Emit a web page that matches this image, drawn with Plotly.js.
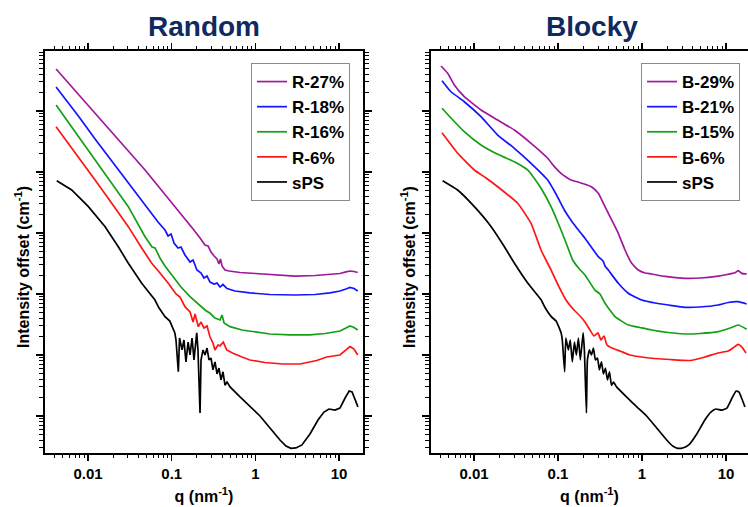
<!DOCTYPE html>
<html>
<head>
<meta charset="utf-8">
<script src="https://cdn.plot.ly/plotly-3.0.1.min.js"></script>
<style>html,body{margin:0;padding:0;background:#fff;}#chart{width:748px;height:507px;}</style>
</head>
<body>
<div id="chart"></div>
<script>
// ---- Data (q in nm^-1, intensity offset in arbitrary cm^-1 units) ----
const sPS_q = [0.00423,0.00638,0.0101,0.0160,0.0230,0.0303,0.0438,0.0631,0.07,0.0831,0.095,0.109,0.1125,0.120,0.124,0.1328,0.140,0.148,0.157,0.1655,0.175,0.1846,0.199,0.206,0.218,0.224,0.2366,0.250,0.264,0.279,0.295,0.311,0.329,0.348,0.367,0.388,0.410,0.433,0.458,0.498,0.655,0.862,1.135,1.494,1.967,2.32,2.66,3.05,3.60,4.49,5.60,6.60,7.57,8.93,10.25,11.8,13.2,14.3,15.5,16.8];
const sPS_I = [7200,5070,2700,1270,596,319,150,79.7,60,42.5,36,23,17.6,5.3,19,12.1,17.6,7.7,16.3,10,19,8.3,23,12.1,1.12,8.3,12.1,10,13,8.3,8.9,5.7,7.7,4.9,6.1,3.9,5.3,3.2,3.6,3.0,2.05,1.42,1.0,0.636,0.404,0.322,0.295,0.299,0.335,0.507,0.86,1.16,1.30,1.25,1.35,1.97,2.57,2.47,1.90,1.41];

const R6_q = [0.00415,0.00766,0.01213,0.01919,0.0303,0.0430,0.0577,0.0724,0.0910,0.1125,0.1256,0.144,0.1655,0.180,0.190,0.208,0.224,0.243,0.264,0.287,0.311,0.329,0.357,0.378,0.413,0.454,0.540,0.692,0.861,1.30,2.14,3.41,5.40,7.11,10.25,12.1,13.5,15.1,16.7];
const R6_I = [5.53e4,1.78e4,7390,3070,1270,589,319,221,150,100,89.3,61.9,50.7,34.7,47,29.1,34.7,27.7,29.9,19.7,15.7,12.1,14.6,14.1,16.3,12.1,10.7,9.27,8.28,7.54,7.12,7.12,8.13,9.27,10.0,12.1,13.7,12.5,10.0];

const R16_q = [0.00415,0.00766,0.01213,0.01919,0.0303,0.0480,0.0582,0.0632,0.0724,0.0831,0.1037,0.129,0.1655,0.195,0.218,0.250,0.287,0.329,0.378,0.399,0.422,0.498,0.692,1.0,1.49,2.59,4.49,6.79,10.25,12.1,13.5,15.1,16.7];
const R16_I = [1.25e5,3.79e4,1.57e4,6530,2700,869,589,568,389,288,190,130,90.3,73.9,66,54.7,48.3,40.4,37.5,45.3,33.5,29.1,25.7,23.8,22.1,21.3,21.3,22.5,24.7,27.7,29.9,28.2,25.7];

const R18_q = [0.00415,0.00766,0.01213,0.01919,0.0303,0.0480,0.0686,0.0831,0.0904,0.0982,0.1065,0.1189,0.129,0.144,0.1655,0.180,0.200,0.224,0.243,0.264,0.287,0.321,0.348,0.378,0.410,0.458,0.571,0.861,1.49,2.97,5.15,7.79,10.25,12.1,13.5,15.1,16.7];
const R18_I = [2.47e5,8.28e4,3.47e4,1.51e4,6600,2880,1510,1120,893,964,686,568,589,436,335,361,247,221,183,197,157,146,151,130,143,123,112,104,98.1,96.3,98.1,104,112,121,128,123,112];

const R27_q = [0.00415,0.00766,0.01213,0.01919,0.0303,0.0480,0.0724,0.1009,0.140,0.180,0.218,0.250,0.272,0.295,0.321,0.348,0.367,0.383,0.399,0.433,0.484,0.655,1.0,1.71,2.97,5.15,7.79,10.25,12.1,13.5,15.1,16.7];
const R27_I = [4.88e5,1.90e5,9.27e4,4.58e4,2.21e4,1.08e4,5470,3100,1760,1160,828,635,612,488,420,375,310,375,288,247,238,225,217,205,197,201,209,217,230,238,234,225];

const B6_q = [0.00416,0.00640,0.01008,0.0139,0.01914,0.0331,0.0478,0.0628,0.0804,0.1,0.1245,0.155,0.183,0.2095,0.2404,0.2685,0.299,0.325,0.353,0.383,0.440,0.547,0.719,1.086,2.15,3.73,5.62,8.03,10.6,12.1,13.9,15.5,17.3];
const B6_I = [4.41e4,2.03e4,1.08e4,7980,5740,3070,1440,526,267,141,79.7,54.7,43.6,34.7,25.7,20.5,23.0,17.6,20.5,14.6,13.0,11.6,10.0,9.10,8.44,8.13,9.27,10.8,11.6,13.0,14.9,13.5,10.8];

const B15_q = [0.00416,0.00532,0.00766,0.01211,0.01914,0.02404,0.0302,0.03626,0.0435,0.0518,0.0628,0.0826,0.1086,0.1262,0.1496,0.1754,0.2095,0.275,0.316,0.363,0.478,0.687,0.946,1.30,2.04,3.25,4.90,8.09,11.2,14.0,17.6];
const B15_I = [1.11e5,7.68e4,4.58e4,2.77e4,1.95e4,1.70e4,1.47e4,1.28e4,1.08e4,7980,5410,2700,1120,661,361,267,205,116,100,70.4,42.5,31.0,28.2,25.7,23.4,22.1,22.5,24.1,27.7,31.0,26.4];

const B21_q = [0.00416,0.00532,0.00766,0.01211,0.01914,0.0302,0.0478,0.0754,0.0946,0.1189,0.149,0.188,0.2095,0.302,0.344,0.363,0.397,0.522,0.687,0.827,0.991,1.43,2.06,3.25,4.90,8.09,10.6,14.0,17.6];
const B21_I = [3.14e5,2.07e5,1.42e5,8.07e4,4.04e4,2.45e4,1.39e4,7390,4360,2380,1490,989,819,409,347,288,247,150,103,89.3,79.7,71.2,66,60.5,61.2,66,72.6,74.8,68.5];

const B29_q = [0.00405,0.00486,0.00583,0.00766,0.01211,0.01914,0.0302,0.0478,0.0754,0.0895,0.1086,0.1245,0.143,0.173,0.2056,0.252,0.302,0.363,0.436,0.522,0.628,0.754,0.903,1.086,1.30,1.88,3.25,4.90,8.09,10.3,12.8,14.0,15.4,17.6];
const B29_I = [5.47e5,4.15e5,2.67e5,1.72e5,1.04e5,7.12e4,4.88e4,2.95e4,1.68e4,1.25e4,9520,8280,7390,6860,6360,5680,4480,2700,1630,989,526,319,247,221,213,194,181,183,197,209,223,241,218,213];

const xTickVals = [0.01, 0.1, 1, 10];
const xTickText = ['0.01', '0.1', '1', '10'];
const yTickVals = [1, 10, 100, 1000, 1e4, 1e5, 1e6];
const leftNames = ['R-27%', 'R-18%', 'R-16%', 'R-6%', 'sPS'];
const rightNames = ['B-29%', 'B-21%', 'B-15%', 'B-6%', 'sPS'];
const colors = ['#a0189c', '#1414ff', '#14a014', '#ff1414', '#000000'];

// minor tick positions (axis decoration only)
const minorX = [], minorY = [];
for (let d = -3; d <= 1; d++) for (let k = 2; k <= 9; k++) minorX.push(k * Math.pow(10, d));
for (let d = -1; d <= 5; d++) for (let k = 2; k <= 9; k++) minorY.push(k * Math.pow(10, d));

const leftData = [[R27_q, R27_I], [R18_q, R18_I], [R16_q, R16_I], [R6_q, R6_I], [sPS_q, sPS_I]];
const rightData = [[B29_q, B29_I], [B21_q, B21_I], [B15_q, B15_I], [B6_q, B6_I], [sPS_q, sPS_I]];

const traces = [];
leftData.forEach((d, i) => traces.push({
  x: d[0], y: d[1], type: 'scatter', mode: 'lines', name: leftNames[i],
  line: {color: colors[i], width: 1.7}, xaxis: 'x', yaxis: 'y', legend: 'legend'
}));
rightData.forEach((d, i) => traces.push({
  x: d[0], y: d[1], type: 'scatter', mode: 'lines', name: rightNames[i],
  line: {color: colors[i], width: 1.7, shape: 'spline', smoothing: 0.4}, xaxis: 'x2', yaxis: 'y2', legend: 'legend2'
}));

const FONT = 'Liberation Sans, Arial, sans-serif';
function xAxis(domain, range, anchor) {
  return {
    type: 'log', domain: domain, range: range, anchor: anchor,
    tickmode: 'array', tickvals: xTickVals, ticktext: xTickText,
    ticks: 'outside', ticklen: 6, tickwidth: 1.5, tickcolor: '#000',
    showline: true, linewidth: 1.8, linecolor: '#000', mirror: 'allticks',
    showgrid: false, zeroline: false, automargin: false,
    tickfont: {family: FONT, size: 15, weight: 'bold', color: '#000'},
    minor: {tickmode: 'array', tickvals: minorX, ticks: 'outside', ticklen: 3, tickwidth: 1, tickcolor: '#000', showgrid: false},
    title: {text: 'q (nm<sup>-1</sup>)', font: {family: FONT, size: 16, weight: 'bold', color: '#000'}, standoff: 10}
  };
}
function yAxis(anchor, mirror) {
  return {
    type: 'log', domain: [0.1065, 0.8994], range: [-0.607, 5.984], anchor: anchor,
    tickmode: 'array', tickvals: yTickVals, showticklabels: false,
    ticks: 'outside', ticklen: 7, tickwidth: 1.5, tickcolor: '#000',
    showline: true, linewidth: 1.8, linecolor: '#000', mirror: mirror,
    showgrid: false, zeroline: false, automargin: false,
    minor: {tickmode: 'array', tickvals: minorY, ticks: 'outside', ticklen: 4, tickwidth: 1, tickcolor: '#000', showgrid: false}
  };
}
const legendBase = {
  xanchor: 'left', yanchor: 'top', bgcolor: '#fff', bordercolor: '#8a8a8a', borderwidth: 1,
  font: {family: FONT, size: 17, weight: 'bold', color: '#000'}, tracegroupgap: 0, itemwidth: 30
};

const layout = {
  width: 748, height: 507,
  margin: {l: 0, r: 0, t: 0, b: 0},
  paper_bgcolor: '#fff', plot_bgcolor: '#fff',
  font: {family: FONT, color: '#000'},
  showlegend: true,
  xaxis: xAxis([0.0602, 0.4853], [-2.514, 1.286], 'y'),
  yaxis: yAxis('x', 'allticks'),
  xaxis2: xAxis([0.5762, 1], [-2.512, 1.262], 'y2'),
  yaxis2: yAxis('x2', false),
  legend: Object.assign({x: 0.3356, y: 0.8757}, legendBase),
  legend2: Object.assign({x: 0.857, y: 0.8757}, legendBase),
  annotations: [
    {text: 'Random', xref: 'paper', yref: 'paper', x: 0.2727, y: 0.9487, xanchor: 'center', yanchor: 'middle', showarrow: false,
     font: {family: FONT, size: 28, weight: 'bold', color: '#0f2a5f'}},
    {text: 'Blocky', xref: 'paper', yref: 'paper', x: 0.7914, y: 0.9487, xanchor: 'center', yanchor: 'middle', showarrow: false,
     font: {family: FONT, size: 28, weight: 'bold', color: '#0f2a5f'}},
    {text: 'Intensity offset (cm<sup>-1</sup>)', xref: 'paper', yref: 'paper', x: 0.0294, y: 0.4734, textangle: -90,
     xanchor: 'center', yanchor: 'middle', showarrow: false, font: {family: FONT, size: 16, weight: 'bold', color: '#000'}},
    {text: 'Intensity offset (cm<sup>-1</sup>)', xref: 'paper', yref: 'paper', x: 0.5455, y: 0.4734, textangle: -90,
     xanchor: 'center', yanchor: 'middle', showarrow: false, font: {family: FONT, size: 16, weight: 'bold', color: '#000'}}
  ]
};

Plotly.newPlot('chart', traces, layout, {displayModeBar: false, staticPlot: true});
</script>
</body>
</html>
